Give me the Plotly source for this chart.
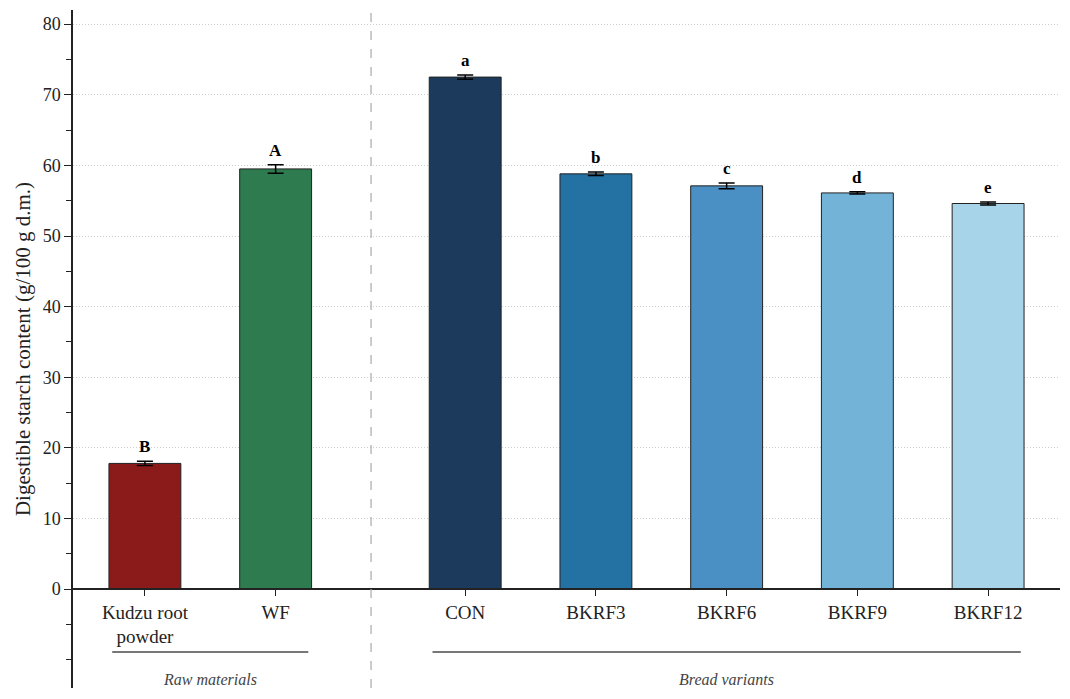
import plotly.graph_objects as go

# bar data
samples = ['Kudzu root<br>powder', 'WF', 'CON', 'BKRF3', 'BKRF6', 'BKRF9', 'BKRF12']
xpos = [0, 1, 2.45, 3.45, 4.45, 5.45, 6.45]
starch = [17.8, 59.5, 72.5, 58.8, 57.1, 56.1, 54.6]
sd = [0.3, 0.6, 0.3, 0.25, 0.4, 0.15, 0.2]
letters = ['B', 'A', 'a', 'b', 'c', 'd', 'e']
colors = ['#8b1a1a', '#2e7b50', '#1b3a5c', '#2471a3', '#4a90c4', '#74b3d8', '#a8d4ea']

groups = ['Raw materials', 'Bread variants']
group_start = [-0.25, 2.2]
group_end = [1.25, 6.7]

YMIN, YMAX = -14, 82
FONT = 'Liberation Serif'

fig = go.Figure()
fig.add_trace(go.Bar(
    x=xpos, y=starch, width=0.55,
    marker=dict(color=colors, line=dict(color='#222222', width=1)),
    error_y=dict(type='data', array=sd, color='black', thickness=1.5, width=8),
    showlegend=False,
))

for x, v, e, t in zip(xpos, starch, sd, letters):
    fig.add_annotation(x=x, y=v + e, text='<b>%s</b>' % t, showarrow=False,
                       yanchor='bottom', yshift=3, font=dict(size=17, color='black', family=FONT))

# group brackets and captions under the x labels
for g, s, e in zip(groups, group_start, group_end):
    fig.add_shape(type='line', x0=s, x1=e, y0=-8.9, y1=-8.9, line=dict(color='#777777', width=2))
    fig.add_annotation(x=(s + e) / 2, y=-12.8, text='<i>%s</i>' % g, showarrow=False,
                       font=dict(size=16, color='#444444', family=FONT), borderpad=0)

# separator between raw materials and breads
fig.add_shape(type='line', x0=1.73, x1=1.73, y0=0, y1=1, yref='paper',
              line=dict(color='#aaaaaa', width=1.2, dash='dash'))

# page body adds 8px around the figure
fig.update_layout(
    width=1054, height=683,
    margin=dict(l=65, r=2, t=2, b=3),
    plot_bgcolor='white', paper_bgcolor='white',
    font=dict(family=FONT, size=18, color='#222222'),
)
fig.update_xaxes(
    range=[-0.55, 7.0],
    tickvals=xpos, ticktext=samples,
    anchor='free', position=(0 - YMIN) / (YMAX - YMIN),
    showline=True, linecolor='#222222', linewidth=1.5,
    ticks='outside', ticklen=6, tickcolor='#222222',
    showgrid=False, zeroline=False, automargin=False,
    tickfont=dict(size=19),
)
fig.update_yaxes(
    range=[YMIN, YMAX],
    tickvals=list(range(0, 81, 10)),
    showline=True, linecolor='#222222', linewidth=1.5,
    ticks='outside', ticklen=7, tickcolor='#222222',
    showgrid=True, gridcolor='#cfcfcf', griddash='1px,2px', gridwidth=1,
    zeroline=False, automargin=False,
    minor=dict(tickvals=[-10, -5, 5, 15, 25, 35, 45, 55, 65, 75], ticks='outside',
               ticklen=5, tickcolor='#222222', showgrid=False),
    title=dict(text='Digestible starch content (g/100 g d.m.)', font=dict(size=21), standoff=6),
    tickfont=dict(size=18),
)

fig.write_html('out.html')
